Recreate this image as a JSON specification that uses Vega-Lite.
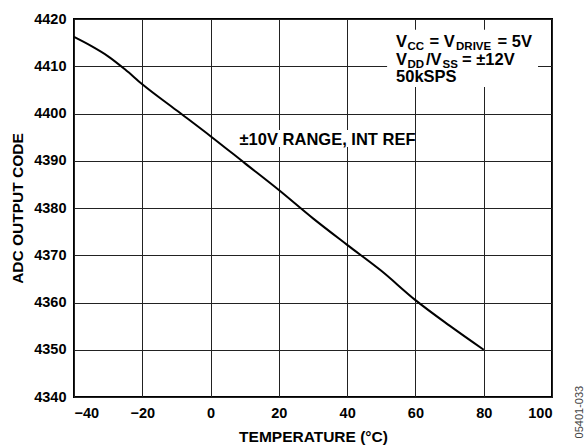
{
  "$schema": "https://vega.github.io/schema/vega-lite/v6.json",
  "width": 478,
  "height": 378,
  "autosize": {"type": "none"},
  "padding": {"left": 74, "top": 19, "right": 36, "bottom": 51},
  "background": "white",
  "config": {
    "font": "Liberation Sans",
    "view": {"stroke": "black", "strokeWidth": 2},
    "axis": {
      "grid": true,
      "gridColor": "#222222",
      "gridWidth": 1,
      "gridOpacity": 1,
      "domain": false,
      "ticks": false,
      "labelFont": "Liberation Sans",
      "labelFontWeight": "bold",
      "labelFontSize": 14.5,
      "labelColor": "black",
      "titleFont": "Liberation Sans",
      "titleFontWeight": "bold",
      "titleFontSize": 15.5,
      "titleColor": "black"
    }
  },
  "layer": [
    {
      "data": {"values": [
        {"x1": 51.7, "x2": 95.9, "y1": 4417.7, "y2": 4405.6},
        {"x1": 8.0, "x2": 59.3, "y1": 4396.5, "y2": 4392.9}
      ]},
      "mark": {"type": "rect", "fill": "white", "stroke": null},
      "encoding": {
        "x": {"field": "x1", "type": "quantitative",
          "scale": {"domain": [-40, 100], "nice": false, "zero": false},
          "axis": {"values": [-40, -20, 0, 20, 40, 60, 80, 100], "title": "TEMPERATURE (°C)", "labelPadding": 9, "titlePadding": 10, "format": "d"}},
        "x2": {"field": "x2"},
        "y": {"field": "y1", "type": "quantitative",
          "scale": {"domain": [4340, 4420], "nice": false, "zero": false},
          "axis": {"values": [4340, 4350, 4360, 4370, 4380, 4390, 4400, 4410, 4420], "title": "ADC OUTPUT CODE", "labelPadding": 8, "titlePadding": 8, "format": "d"}},
        "y2": {"field": "y2"}
      }
    },
    {
      "data": {"values": [
        {"t": -40, "v": 4416.2},
        {"t": -35, "v": 4414.3},
        {"t": -30, "v": 4412.1},
        {"t": -25, "v": 4409.3},
        {"t": -20, "v": 4406.2},
        {"t": -10, "v": 4400.7},
        {"t": 0, "v": 4395.2},
        {"t": 10, "v": 4389.5},
        {"t": 20, "v": 4383.8},
        {"t": 30, "v": 4377.8},
        {"t": 40, "v": 4372.2},
        {"t": 50, "v": 4366.7},
        {"t": 60, "v": 4360.5},
        {"t": 70, "v": 4355.1},
        {"t": 80, "v": 4350.0}
      ]},
      "mark": {"type": "line", "color": "black", "strokeWidth": 2, "interpolate": "monotone"},
      "encoding": {
        "x": {"field": "t", "type": "quantitative"},
        "y": {"field": "v", "type": "quantitative"}
      }
    },
    {
      "data": {"values": [{"x": 34.25, "y": 4394.4, "s": "±10V RANGE, INT REF"}]},
      "mark": {"type": "text", "fontSize": 16.5, "fontWeight": "bold", "align": "center", "baseline": "middle", "color": "black"},
      "encoding": {"x": {"field": "x", "type": "quantitative"}, "y": {"field": "y", "type": "quantitative"}, "text": {"field": "s"}}
    },
    {
      "data": {"values": [
        {"x": 54.32, "y": 4414.14, "s": "V"},
        {"x": 54.32, "y": 4410.26, "s": "V"},
        {"x": 54.32, "y": 4406.73, "s": "50kSPS"}
      ]},
      "mark": {"type": "text", "fontSize": 16.5, "fontWeight": "bold", "align": "left", "baseline": "alphabetic", "color": "black"},
      "encoding": {"x": {"field": "x", "type": "quantitative"}, "y": {"field": "y", "type": "quantitative"}, "text": {"field": "s"}}
    },
    {
      "data": {"values": [{"x": 54.32, "y": 4414.14, "s": "CC"}, {"x": 54.32, "y": 4410.26, "s": "DD"}]},
      "mark": {"type": "text", "fontSize": 11.5, "fontWeight": "bold", "align": "left", "baseline": "alphabetic", "color": "black", "dx": 11.5, "dy": 3},
      "encoding": {"x": {"field": "x", "type": "quantitative"}, "y": {"field": "y", "type": "quantitative"}, "text": {"field": "s"}}
    },
    {
      "data": {"values": [{"x": 54.32, "y": 4414.14, "s": "= V"}]},
      "mark": {"type": "text", "fontSize": 16.5, "fontWeight": "bold", "align": "left", "baseline": "alphabetic", "color": "black", "dx": 33.5},
      "encoding": {"x": {"field": "x", "type": "quantitative"}, "y": {"field": "y", "type": "quantitative"}, "text": {"field": "s"}}
    },
    {
      "data": {"values": [{"x": 54.32, "y": 4414.14, "s": "DRIVE"}]},
      "mark": {"type": "text", "fontSize": 11.5, "fontWeight": "bold", "align": "left", "baseline": "alphabetic", "color": "black", "dx": 60, "dy": 3},
      "encoding": {"x": {"field": "x", "type": "quantitative"}, "y": {"field": "y", "type": "quantitative"}, "text": {"field": "s"}}
    },
    {
      "data": {"values": [{"x": 54.32, "y": 4414.14, "s": "= 5V"}]},
      "mark": {"type": "text", "fontSize": 16.5, "fontWeight": "bold", "align": "left", "baseline": "alphabetic", "color": "black", "dx": 101.5},
      "encoding": {"x": {"field": "x", "type": "quantitative"}, "y": {"field": "y", "type": "quantitative"}, "text": {"field": "s"}}
    },
    {
      "data": {"values": [{"x": 54.32, "y": 4410.26, "s": "/V"}]},
      "mark": {"type": "text", "fontSize": 16.5, "fontWeight": "bold", "align": "left", "baseline": "alphabetic", "color": "black", "dx": 30},
      "encoding": {"x": {"field": "x", "type": "quantitative"}, "y": {"field": "y", "type": "quantitative"}, "text": {"field": "s"}}
    },
    {
      "data": {"values": [{"x": 54.32, "y": 4410.26, "s": "SS"}]},
      "mark": {"type": "text", "fontSize": 11.5, "fontWeight": "bold", "align": "left", "baseline": "alphabetic", "color": "black", "dx": 46.5, "dy": 3},
      "encoding": {"x": {"field": "x", "type": "quantitative"}, "y": {"field": "y", "type": "quantitative"}, "text": {"field": "s"}}
    },
    {
      "data": {"values": [{"x": 54.32, "y": 4410.26, "s": "= ±12V"}]},
      "mark": {"type": "text", "fontSize": 16.5, "fontWeight": "bold", "align": "left", "baseline": "alphabetic", "color": "black", "dx": 66},
      "encoding": {"x": {"field": "x", "type": "quantitative"}, "y": {"field": "y", "type": "quantitative"}, "text": {"field": "s"}}
    },
    {
      "data": {"values": [{"x": 108.2, "y": 4336.8, "s": "05401-033"}]},
      "mark": {"type": "text", "fontSize": 11, "angle": 270, "align": "center", "baseline": "middle", "color": "#444444"},
      "encoding": {"x": {"field": "x", "type": "quantitative"}, "y": {"field": "y", "type": "quantitative"}, "text": {"field": "s"}}
    }
  ]
}
